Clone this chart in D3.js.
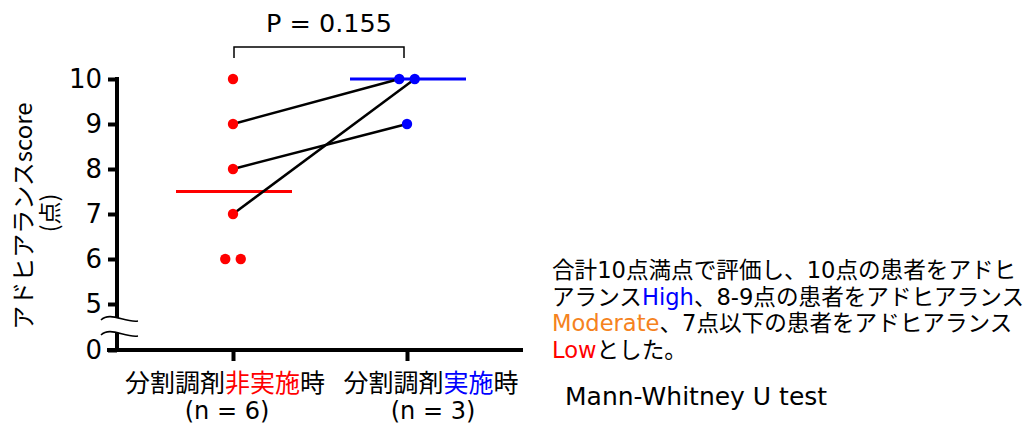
<!DOCTYPE html>
<html>
<head>
<meta charset="utf-8">
<script src="https://cdn.jsdelivr.net/npm/d3@7"></script>
<style>
  html, body { margin: 0; padding: 0; background: #fff; }
  svg { display: block; font-family: "DejaVu Sans", "Noto Sans CJK JP", sans-serif; }
</style>
</head>
<body>
<svg id="chart" width="1025" height="425"></svg>
<script>
// ---- data ----
const categories = ["非実施", "実施"];
const groupN = [6, 3];
const nonImplScores = [10, 9, 8, 7, 6, 6];
const implScores = [10, 10, 9];
// pairs: [index in nonImplScores, index in implScores]
const pairs = [[1, 0], [2, 2], [3, 1]];
const yTicks = [0, 5, 6, 7, 8, 9, 10];
const pValueText = "P = 0.155";
const testName = "Mann-Whitney U test";
const yTitle = ["アドヒアランスscore", "(点)"];
const noteLines = [
  [["合計10点満点で評価し、10点の患者をアドヒ", "#000"]],
  [["アランス", "#000"], ["High", "#0000ff"], ["、8-9点の患者をアドヒアランス", "#000"]],
  [["Moderate", "#f58220"], ["、7点以下の患者をアドヒアランス", "#000"]],
  [["Low", "#ff0000"], ["とした。", "#000"]]
];

const RED = "#ff0000", BLUE = "#0000ff";
const groupColors = [RED, BLUE];
const groups = [nonImplScores, implScores];

const svg = d3.select("#chart");

// ---- scales ----
const x = d3.scalePoint().domain(categories).range([233, 407]);
const y = d3.scaleLinear().domain([0, 5, 10]).range([350, 304, 79]);
const axisX = 117;

// ---- y axis ----
const yAxis = svg.append("g")
  .attr("transform", `translate(${axisX},0)`)
  .call(d3.axisLeft(y).tickValues(yTicks).tickSize(9).tickPadding(6).tickSizeOuter(0));
yAxis.select(".domain").attr("stroke", "#000").attr("stroke-width", 4)
  .attr("d", `M0,${y(10) - 2}V${y(0)}`);
yAxis.selectAll(".tick line").attr("stroke", "#000").attr("stroke-width", 4);
yAxis.selectAll(".tick text").attr("font-size", 26).attr("fill", "#000")
  .attr("font-family", "DejaVu Sans, sans-serif");

// ---- x axis ----
const xAxis = svg.append("g")
  .attr("transform", `translate(0,${y(0)})`)
  .call(d3.axisBottom(x).tickSize(11).tickFormat(""));
xAxis.select(".domain").attr("stroke", "#000").attr("stroke-width", 4)
  .attr("d", "M107,0H523");
xAxis.selectAll(".tick line").attr("stroke", "#000").attr("stroke-width", 4);

// axis break
const brk = svg.append("g");
const upY = 318, loY = 333;
brk.append("path")
  .attr("d", `M100,${upY + 2} C110,${upY - 7} 125,${upY + 5} 138,${upY + 3}
              L138,${loY + 3} C125,${loY + 5} 110,${loY - 7} 100,${loY + 2} Z`)
  .attr("fill", "#fff");
[upY, loY].forEach(yy => {
  brk.append("path")
    .attr("d", `M101,${yy + 2} C110,${yy - 7} 125,${yy + 5} 138,${yy + 3}`)
    .attr("fill", "none").attr("stroke", "#000").attr("stroke-width", 1.6);
});

// ---- points with jitter for duplicates ----
const dotSpacing = 15.5;
const pts = groups.map((vals, gi) => {
  const counts = d3.rollup(vals, v => v.length, d => d);
  const seen = new Map();
  return vals.map(v => {
    const n = counts.get(v);
    const k = seen.get(v) || 0;
    seen.set(v, k + 1);
    return { g: gi, v, cx: x(categories[gi]) + (k - (n - 1) / 2) * dotSpacing, cy: y(v) };
  });
});

// medians
const medW = 58;
groups.forEach((vals, gi) => {
  const m = d3.median(vals);
  svg.append("line")
    .attr("x1", x(categories[gi]) - medW + 1).attr("x2", x(categories[gi]) + medW + 1)
    .attr("y1", y(m)).attr("y2", y(m))
    .attr("stroke", groupColors[gi]).attr("stroke-width", 3);
});

// pair lines
svg.append("g").selectAll("line").data(pairs).join("line")
  .attr("x1", d => pts[0][d[0]].cx).attr("y1", d => pts[0][d[0]].cy)
  .attr("x2", d => pts[1][d[1]].cx).attr("y2", d => pts[1][d[1]].cy)
  .attr("stroke", "#000").attr("stroke-width", 2.5);

// dots
svg.append("g").selectAll("circle").data(pts.flat()).join("circle")
  .attr("cx", d => d.cx).attr("cy", d => d.cy).attr("r", 5.2)
  .attr("fill", d => groupColors[d.g]);

// ---- significance bracket ----
const bx1 = x(categories[0]) + 1, bx2 = x(categories[1]) - 3;
svg.append("path")
  .attr("d", `M${bx1},58V47H${bx2}V58`)
  .attr("fill", "none").attr("stroke", "#000").attr("stroke-width", 1.5);
svg.append("text").attr("x", (bx1 + bx2) / 2 + 10).attr("y", 32)
  .attr("text-anchor", "middle").attr("font-size", 25.5).text(pValueText);

// ---- x labels ----
const xLabelColors = [RED, BLUE];
const labelShift = [-8, 24];
const nShift = [-6, 26];
categories.forEach((c, i) => {
  const t = svg.append("text").attr("x", x(c) + labelShift[i]).attr("y", 392)
    .attr("text-anchor", "middle").attr("font-size", 25)
    .attr("font-family", "Noto Sans CJK JP, sans-serif");
  t.append("tspan").attr("fill", "#000").text("分割調剤");
  t.append("tspan").attr("fill", xLabelColors[i]).text(c);
  t.append("tspan").attr("fill", "#000").text("時");
  svg.append("text").attr("x", x(c) + nShift[i]).attr("y", 419)
    .attr("text-anchor", "middle").attr("font-size", 24)
    .text(`(n = ${groupN[i]})`);
});

// ---- y title ----
svg.append("text")
  .attr("transform", "translate(32,216) rotate(-90)")
  .attr("text-anchor", "middle").attr("font-size", 24)
  .attr("font-family", "Noto Sans CJK JP, sans-serif")
  .text(yTitle[0]);
svg.append("text")
  .attr("transform", "translate(58,213) rotate(-90)")
  .attr("text-anchor", "middle").attr("font-size", 23)
  .attr("font-family", "Noto Sans CJK JP, sans-serif")
  .text(yTitle[1]);

// ---- note ----
noteLines.forEach((segs, i) => {
  const t = svg.append("text").attr("x", 552).attr("y", 278 + i * 26.5)
    .attr("font-size", 22.6);
  segs.forEach(([s, col]) => t.append("tspan").attr("fill", col).text(s));
});
svg.append("text").attr("x", 565).attr("y", 405).attr("font-size", 25).text(testName);
</script>
</body>
</html>
